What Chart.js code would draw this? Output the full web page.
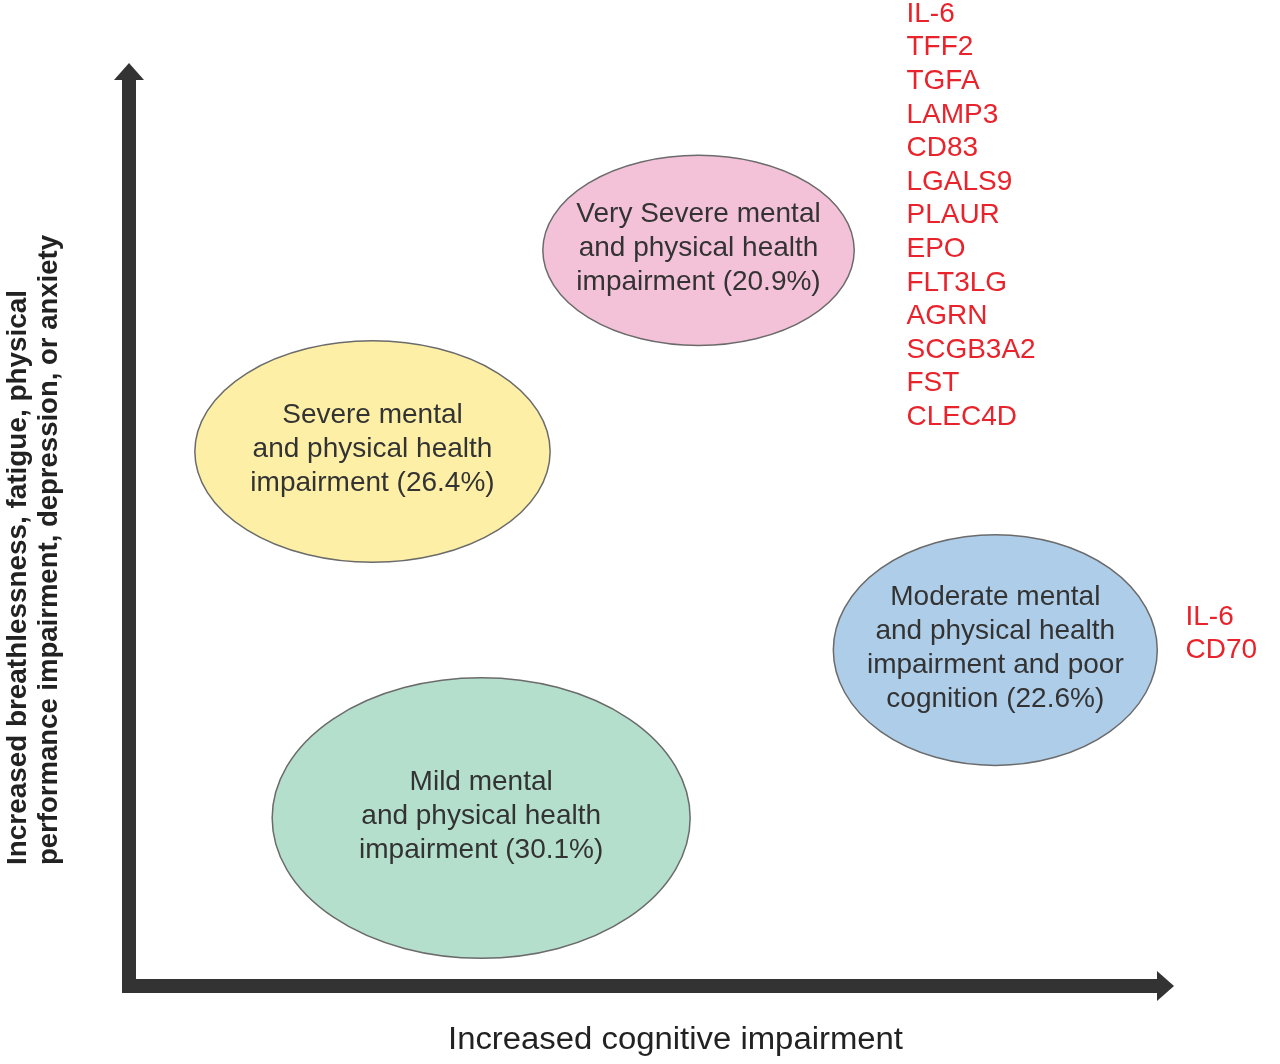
<!DOCTYPE html>
<html>
<head>
<meta charset="utf-8">
<script src="https://cdn.jsdelivr.net/npm/chart.js@4.4.1/dist/chart.umd.min.js"></script>
<style>
    html, body { margin: 0; padding: 0; background: #fff; }
    canvas { display: block; }
</style>
</head>
<body>
<canvas id="clusters" width="1280" height="1064"></canvas>
<script>
// clusters: position = (cognitive, mental/physical) on a 0-100 scale, spread = half extent
const clusterLabels = [
    ['Very Severe mental', 'and physical health', 'impairment (20.9%)'],
    ['Severe mental', 'and physical health', 'impairment (26.4%)'],
    ['Moderate mental', 'and physical health', 'impairment and poor', 'cognition (22.6%)'],
    ['Mild mental', 'and physical health', 'impairment (30.1%)'],
];
const clusterX = [54.5, 23.3, 82.9, 33.7];
const clusterY = [79.7, 57.9, 36.4, 18.2];
const clusterSpreadX = [14.9, 17.0, 15.5, 20.0];
const clusterSpreadY = [10.3, 12.0, 12.5, 15.2];
const clusterColors = ['#f4c2d8', '#fdf0a6', '#aecde9', '#b4dfcc'];

const verySevereMarkers = ['IL-6', 'TFF2', 'TGFA', 'LAMP3', 'CD83', 'LGALS9', 'PLAUR',
    'EPO', 'FLT3LG', 'AGRN', 'SCGB3A2', 'FST', 'CLEC4D'];
const verySevereMarkersAt = [74.4, 105.3];
const moderateMarkers = ['IL-6', 'CD70'];
const moderateMarkersAt = [101.1, 40.0];

const xTitle = 'Increased cognitive impairment';
const yTitle = ['Increased breathlessness, fatigue, physical',
    'performance impairment, depression, or anxiety'];

const FONT = '"Liberation Sans", Arial, sans-serif';
const MARKER_STEP = 33.6;

const arrowAxes = {
    id: 'arrowAxes',
    beforeDatasetsDraw(chart) {
        const {ctx, chartArea: a} = chart;
        ctx.save();
        ctx.fillStyle = '#333333';
        // vertical shaft + head
        ctx.fillRect(a.left - 7, a.top + 16, 14, a.bottom + 7 - (a.top + 16));
        ctx.beginPath();
        ctx.moveTo(a.left, a.top);
        ctx.lineTo(a.left + 15, a.top + 17);
        ctx.lineTo(a.left - 15, a.top + 17);
        ctx.closePath();
        ctx.fill();
        // horizontal shaft + head
        ctx.fillRect(a.left - 7, a.bottom - 7, a.right - 16 - (a.left - 7), 14);
        ctx.beginPath();
        ctx.moveTo(a.right, a.bottom);
        ctx.lineTo(a.right - 17, a.bottom - 15);
        ctx.lineTo(a.right - 17, a.bottom + 15);
        ctx.closePath();
        ctx.fill();
        ctx.restore();
    }
};

const clusterEllipses = {
    id: 'clusterEllipses',
    afterDatasetsDraw(chart) {
        const {ctx, scales: {x, y}} = chart;
        const meta = chart.getDatasetMeta(0);
        ctx.save();
        meta.data.forEach(function (pt, i) {
            let rx = x.getPixelForValue(clusterX[i] + clusterSpreadX[i]) - pt.x;
            let ry = pt.y - y.getPixelForValue(clusterY[i] + clusterSpreadY[i]);
            ctx.beginPath();
            ctx.ellipse(pt.x, pt.y, rx, ry, 0, 0, Math.PI * 2);
            ctx.fillStyle = clusterColors[i];
            ctx.fill();
            ctx.lineWidth = 1.5;
            ctx.strokeStyle = '#6b6b6b';
            ctx.stroke();

            let lines = clusterLabels[i];
            ctx.fillStyle = '#333333';
            ctx.font = '28px ' + FONT;
            ctx.textAlign = 'center';
            ctx.textBaseline = 'middle';
            let start = pt.y - (lines.length - 1) * 34 / 2 - 2;
            lines.forEach(function (line, j) {
                ctx.fillText(line, pt.x, start + j * 34);
            });
        });
        ctx.restore();
    }
};

function drawMarkers(ctx, x, y, names, at) {
    let px = x.getPixelForValue(at[0]);
    let py = y.getPixelForValue(at[1]);
    names.forEach(function (name, i) {
        ctx.fillText(name, px, py + i * MARKER_STEP);
    });
}

const markerLists = {
    id: 'markerLists',
    afterDraw(chart) {
        const {ctx, scales: {x, y}} = chart;
        ctx.save();
        ctx.fillStyle = '#e8232b';
        ctx.font = '28px ' + FONT;
        ctx.textAlign = 'left';
        ctx.textBaseline = 'middle';
        drawMarkers(ctx, x, y, verySevereMarkers, verySevereMarkersAt);
        drawMarkers(ctx, x, y, moderateMarkers, moderateMarkersAt);
        ctx.restore();
    }
};

function fitText(ctx, text, px, py, width) {
    let w = ctx.measureText(text).width;
    ctx.save();
    ctx.translate(px, py);
    ctx.scale(width / w, 1);
    ctx.fillText(text, 0, 0);
    ctx.restore();
}

const axisTitles = {
    id: 'axisTitles',
    afterDraw(chart) {
        const {ctx, chartArea: a} = chart;
        ctx.save();
        ctx.fillStyle = '#222222';
        ctx.textAlign = 'left';
        ctx.textBaseline = 'alphabetic';

        ctx.font = '31px ' + FONT;
        fitText(ctx, xTitle, 448, a.bottom + 63, 455);

        ctx.font = 'bold 28px ' + FONT;
        ctx.save();
        ctx.translate(0, 865);
        ctx.rotate(-Math.PI / 2);
        fitText(ctx, yTitle[0], 0, 26, 575);
        fitText(ctx, yTitle[1], 0, 57, 630);
        ctx.restore();
        ctx.restore();
    }
};

new Chart(document.getElementById('clusters'), {
    type: 'scatter',
    data: {
        datasets: [{
            data: clusterX.map(function (v, i) { return {x: v, y: clusterY[i]}; }),
            pointRadius: 0,
            pointHoverRadius: 0,
        }],
    },
    options: {
        responsive: false,
        animation: false,
        devicePixelRatio: 1,
        layout: {
            padding: {left: 129, right: 106, top: 63, bottom: 78},
        },
        plugins: {
            legend: {display: false},
            tooltip: {enabled: false},
        },
        scales: {
            x: {type: 'linear', min: 0, max: 100, display: false},
            y: {type: 'linear', min: 0, max: 100, display: false},
        },
    },
    plugins: [arrowAxes, clusterEllipses, markerLists, axisTitles],
});
</script>
</body>
</html>
